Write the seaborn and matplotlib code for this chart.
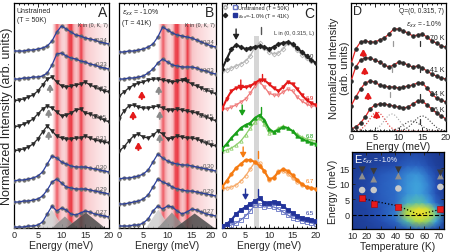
import numpy as np
import matplotlib
matplotlib.use("Agg")
import matplotlib.pyplot as plt
import seaborn as sns
from matplotlib.colors import LinearSegmentedColormap
from matplotlib.lines import Line2D
from matplotlib.legend_handler import HandlerTuple
from matplotlib.ticker import MultipleLocator, FixedLocator

# ---------------- data ----------------
energy = [0, 1, 2, 3, 4, 5, 6, 7, 8, 9, 10, 11, 12, 13, 14, 15, 16, 17, 18, 19, 20]
energy_ticks = [0, 5, 10, 15, 20]

# Panel A (unstrained, T = 50 K), K values, offsets and curve heights
a_labels = ["0.34", "0.33", "0.32", "0.315", "0.31", "0.30", "0.29", "0.27"]
a_offsets = [177, 149, 127, 101, 77, 47, 26, 1]
a_034 = [0, 0, 0, 1, 1, 2, 3, 5, 10, 19, 25, 22, 19, 16, 15, 13, 12, 11, 9, 8, 7]
a_033 = [0, 0, 1, 1, 2, 2, 3, 6, 14, 25, 26, 23, 21, 20, 18, 17, 15, 14, 12, 11, 10]
a_032 = [0, 1, 2, 4, 6, 10, 16, 22, 24, 19, 15, 14, 15, 16, 17, 19, 16, 14, 12, 10, 9]
a_0315 = [0, 1, 3, 5, 8, 13, 18, 21, 19, 15, 11, 12, 14, 17, 18, 14, 13, 11, 9, 7, 5]
a_031 = [0, 1, 2, 4, 7, 12, 19, 25, 20, 15, 13, 12, 12, 13, 13, 15, 13, 11, 10, 9, 8]
a_030 = [0, 1, 1, 2, 3, 5, 9, 17, 25, 23, 19, 17, 15, 14, 14, 14, 13, 12, 11, 10, 9]
a_029 = [0, 0, 1, 1, 2, 3, 6, 12, 20, 23, 19, 15, 14, 13, 13, 13, 12, 11, 10, 9, 8]
a_027 = [0, 0, 0, 1, 1, 2, 5, 13, 21, 16, 19, 17, 13, 12, 14, 16, 15, 13, 12, 11, 10]
a_dark = ["0.32", "0.315", "0.31"]
a_peak_center = [7.8, 10.6, 15.0]
a_peak_height = [19, 12, 16]
a_peak_halfwidth = [2.6, 2.8, 4.2]
a_arrow_E = [7.6, 7.3, 7.3]
a_arrow_I = [144, 119, 97]

# Panel B (strained -1.0 %, T = 41 K)
b_labels = ["0.34", "0.33", "0.32", "0.315", "0.31", "0.30", "0.29", "0.27"]
b_offsets = [176, 149, 132, 109, 77, 49, 24, 2]
b_034 = [0, 0, 1, 1, 2, 3, 5, 8, 15, 25, 22, 19, 17, 16, 15, 14, 12, 10, 8, 6, 5]
b_033 = [0, 0, 1, 1, 2, 3, 6, 10, 16, 20, 17, 14, 13, 12, 12, 12, 11, 9, 8, 6, 5]
b_032 = [0, 4, 8, 11, 13, 14, 16, 17, 17, 16, 15, 14, 15, 16, 15, 12, 10, 8, 6, 4, 2]
b_0315 = [0, 8, 13, 14, 12, 11, 11, 12, 13, 11, 9, 9, 10, 9, 8, 7, 6, 4, 2, 0, -2]
b_031 = [0, 4, 10, 15, 17, 14, 13, 16, 20, 17, 12, 13, 15, 14, 13, 13, 12, 10, 8, 6, 5]
b_030 = [0, 1, 1, 2, 3, 5, 9, 17, 25, 21, 18, 16, 15, 14, 14, 13, 12, 11, 10, 9, 8]
b_029 = [0, 0, 1, 2, 3, 5, 9, 17, 25, 22, 20, 17, 15, 14, 13, 13, 12, 11, 10, 9, 8]
b_027 = [0, 0, 0, 1, 1, 3, 7, 15, 20, 17, 20, 19, 15, 12, 14, 17, 16, 14, 12, 11, 10]
b_dark = ["0.32", "0.315", "0.31"]
b_peak_center = [8.0, 10.8, 15.5]
b_peak_height = [19, 16, 15]
b_peak_halfwidth = [2.6, 3.0, 4.2]
b_red_arrow_E = [4.7, 2.9, 4.0]
b_red_arrow_I = [137, 117, 86]
b_gray_arrow_E = [8.2, 8.4, 8.4]
b_gray_arrow_I = [142, 117, 94]

# red phonon-band shading (A and B)
band_energy = [8.0, 8.5, 9.0, 9.5, 10.0, 10.5, 11.0, 11.5, 12.0, 12.5, 13.0, 13.5,
               14.0, 14.5, 15.0, 15.5, 16.0, 16.5, 17.0, 17.5, 18.0, 18.5, 19.0, 19.5, 20.0]
band_level = [0.0, 0.45, 0.8, 0.55, 0.35, 0.3, 0.45, 0.85, 0.9, 0.55, 0.4, 0.55,
              0.9, 0.6, 0.4, 0.35, 0.3, 0.27, 0.24, 0.21, 0.18, 0.15, 0.12, 0.1, 0.08]

# Panel C : L scans, unstrained (open) vs strained (filled)
c_labels = ["7.0", "6.9", "6.8", "6.7", "6.5"]
c_colors = ["#222222", "#e41a1a", "#1aa01a", "#f57b12", "#23349a"]
c_open_colors = ["#b4b4b4", "#ef7a7a", "#8ccf6a", "#f6a865", "#6674c4"]
c_markers = ["D", "v", "^", "o", "s"]
c_70_strained = [159, 169, 179, 183, 181, 179, 180, 181, 182, 181, 179, 181, 184, 185, 186, 184, 180, 176, 172, 168, 165]
c_70_unstrained = [157, 158, 160, 162, 164, 167, 172, 181, 185, 180, 176, 174, 175, 179, 185, 183, 178, 173, 170, 167, 165]
c_69_strained = [119, 129, 137, 140, 141, 141, 142, 145, 148, 148, 144, 140, 137, 141, 146, 144, 139, 133, 128, 125, 123]
c_69_unstrained = [119, 119, 121, 123, 126, 129, 135, 142, 146, 141, 135, 133, 133, 136, 139, 137, 131, 127, 124, 122, 122]
c_68_strained = [79, 84, 90, 95, 100, 103, 105, 110, 113, 108, 99, 96, 98, 101, 100, 97, 92, 89, 87, 85, 84]
c_68_unstrained = [77, 78, 80, 83, 87, 93, 100, 106, 110, 104, 95, 96, 100, 102, 100, 97, 94, 91, 89, 88, 87]
c_67_strained = [41, 47, 54, 60, 64, 68, 68, 66, 62, 57, 49, 50, 56, 59, 57, 53, 48, 44, 41, 40, 39]
c_67_unstrained = [39, 40, 41, 43, 47, 52, 59, 66, 65, 57, 48, 51, 57, 57, 54, 50, 46, 43, 41, 40, 39]
c_65_strained = [2, 4, 8, 14, 18, 21, 24, 27, 30, 25, 25, 26, 25, 22, 18, 15, 12, 10, 9, 8, 7]
c_65_unstrained = [1, 2, 3, 5, 8, 12, 17, 23, 23, 21, 22, 21, 19, 16, 13, 10, 9, 7, 6, 5, 4]
c_arrow_E = [3.0, 4.0, 4.3, 4.5, 5.0]
c_arrow_I = [188, 137, 112, 70, 28]
c_tick_E = [8.3, 8.6, 8.2, 7.7, 7.7]
c_tick_I = [194, 147, 114, 70, 32]

# Panel D : temperature dependence at Q = (0, 0.315, 7)
d_labels = ["70 K", "41 K", "24 K", "16 K"]
d_70K = [67, 82, 89, 90, 89, 89, 91, 93, 97, 102, 102, 100, 98, 95, 96, 97, 94, 90, 88, 85, 84]
d_41K = [50, 64, 71, 73, 73, 71, 69, 66, 64, 66, 69, 68, 66, 64, 65, 63, 60, 57, 55, 53, 52]
d_24K = [25, 34, 42, 48, 50, 49, 46, 45, 44, 44, 43, 44, 45, 46, 48, 48, 43, 37, 33, 31, 29]
d_16K = [2, 4, 8, 14, 22, 26, 27, 27, 26, 25, 24, 23, 24, 27, 30, 30, 26, 22, 18, 15, 12]
d_comp_center = [5.5, 8.6, 12.8, 15.0]
d_comp_height = [19, 17, 10, 15]
d_comp_sigma = [1.6, 1.6, 1.8, 1.8]
d_arrow_E = [2.6, 2.9, 3.6, 5.4]
d_arrow_I = [82, 64, 39, 20]
d_gray_E = [8.9, 8.6, 8.2]
d_gray_I = [85, 59, 34]
d_dark_E = [14.5, 14.5, 14.5, 14.5]
d_dark_I = [85, 59, 32, 7]

# Panel E : intensity map and mode energies vs temperature
e_T_grid = [10, 20, 30, 40, 48, 54, 58, 63, 68, 74]
e_E_grid = [-4.5, -2, 0, 2, 4, 7, 10, 13, 16, 20.5]
e_map = [
    [0.05, 0.08, 0.12, 0.16, 0.24, 0.30, 0.30, 0.25, 0.14, 0.05],
    [0.06, 0.10, 0.18, 0.30, 0.62, 0.78, 0.80, 0.72, 0.50, 0.10],
    [0.08, 0.12, 0.22, 0.38, 0.85, 0.97, 1.00, 0.92, 0.68, 0.12],
    [0.08, 0.12, 0.22, 0.36, 0.78, 0.92, 0.95, 0.85, 0.55, 0.12],
    [0.08, 0.14, 0.24, 0.32, 0.55, 0.62, 0.62, 0.50, 0.30, 0.08],
    [0.08, 0.14, 0.26, 0.32, 0.45, 0.50, 0.48, 0.38, 0.20, 0.06],
    [0.08, 0.14, 0.26, 0.32, 0.45, 0.50, 0.48, 0.38, 0.20, 0.06],
    [0.06, 0.12, 0.24, 0.30, 0.42, 0.46, 0.42, 0.30, 0.16, 0.05],
    [0.04, 0.08, 0.14, 0.18, 0.27, 0.28, 0.25, 0.17, 0.09, 0.04],
    [0.02, 0.04, 0.06, 0.08, 0.12, 0.12, 0.11, 0.08, 0.05, 0.02],
]
e_T = [17, 25, 42, 71]
e_soft = [5.3, 3.5, 2.7, 1.8]
e_circ = [8.0, 8.0, 8.5, 9.0]
e_up = [12.5, 11.5, 12.5, 12.5]
e_down = [14.5, 14.0, 14.5, 13.5]
e_guide_T = [17, 30, 42, 56, 71]
e_guide_E = [5.3, 4.0, 2.9, 0.1, 1.8]

# ---------------- style ----------------
sns.set_theme(style="ticks")
plt.rcParams['font.family'] = ['Liberation Sans', 'DejaVu Sans']
plt.rcParams['axes.linewidth'] = 0.9
plt.rcParams['axes.edgecolor'] = 'black'

fig = plt.figure(figsize=(4.5, 2.53), dpi=100)
W, H = 450.0, 253.0


def add_ax(x0, y0, x1, y1):
    return fig.add_axes([x0 / W, 1 - y1 / H, (x1 - x0) / W, (y1 - y0) / H])


axA = add_ax(14, 4, 109, 229)
axB = add_ax(119, 4, 216, 229)
axC = add_ax(222, 4, 316, 229)
axD = add_ax(351, 4, 446, 132)
axE = add_ax(352, 153, 444, 230)

E = np.array(energy, dtype=float)
red_cmap = LinearSegmentedColormap.from_list("bands", ["#ffffff", "#f7b7bb", "#e8202c"])


def arrow(ax, x, y_tip, y_tail, color, lw=1.2, ms=5):
    ax.annotate("", xy=(x, y_tip), xytext=(x, y_tail),
                arrowprops=dict(arrowstyle='-|>,head_width=0.35,head_length=0.6', color=color,
                                lw=lw, mutation_scale=ms, shrinkA=0, shrinkB=0), zorder=6)


def energy_axis(ax, ymax, first_ha='center', last_ha='center'):
    ax.set_xlim(0, 20)
    ax.set_ylim(0, ymax)
    ax.xaxis.set_major_locator(FixedLocator(energy_ticks))
    ax.xaxis.set_minor_locator(MultipleLocator(1))
    ax.set_xticks(energy_ticks, [str(t) for t in energy_ticks])
    labs = ax.get_xticklabels()
    labs[0].set_horizontalalignment(first_ha)
    labs[-1].set_horizontalalignment(last_ha)
    ax.tick_params(which='both', direction='in', top=True, bottom=True, left=False,
                   labelleft=False, labelsize=6.6, pad=1.5, width=0.7)
    ax.tick_params(which='major', length=3)
    ax.tick_params(which='minor', length=1.5)
    ax.set_xlabel("Energy (meV)", fontsize=7.5, labelpad=0.5)
    ax.set_yticks([])


def line(ax, y, color, lw, ls='-', z=3):
    sns.lineplot(x=E, y=np.asarray(y, float), ax=ax, color=color, lw=lw, ls=ls, zorder=z)


def pts(ax, y, color, marker, ms, filled=True, z=4):
    sns.lineplot(x=E, y=np.asarray(y, float), ax=ax, linestyle='none', marker=marker,
                 markersize=ms, markerfacecolor=color if filled else 'none',
                 markeredgecolor=color, markeredgewidth=0.6, color=color, zorder=z)


def kpanel(ax, labels, offsets, curves, dark, centers, heights, halfw, letter, title, last_ha):
    ax.imshow(np.array(band_level)[None, :], extent=(band_energy[0] - 0.25, band_energy[-1] + 0.25, 0, 204),
              aspect='auto', cmap=red_cmap, vmin=0, vmax=1, interpolation='bilinear', zorder=0)
    shades = ['#cfcfcf', '#8c8c8c', '#4a4a4a']
    for c, h, w, col in zip(centers, heights, halfw, shades):
        ax.fill_between([c - w, c, c + w], [0, h, 0], color=col, alpha=0.85, lw=0, zorder=1)
    for lab, off, cur in zip(labels, offsets, curves):
        y = np.asarray(cur, float) + off
        if lab in dark:
            line(ax, y, '#2a2a2a', 0.9)
            pts(ax, y, '#2a2a2a', 'v', 2.6)
        else:
            pts(ax, y, '#6e6e6e', 'o', 2.4, z=3)
            line(ax, y, '#2b3f9c', 0.9, z=4)
        ax.text(19.6, off + cur[-1] + 5, lab, fontsize=4.3, color='#555555', ha='right', va='center', zorder=6)
    energy_axis(ax, 225, last_ha=last_ha)
    ax.text(19.6, 212, letter, fontsize=10, ha='right', va='baseline', zorder=6)
    ax.text(19.8, 203, "K in (0, K, 7)", fontsize=3.8, ha='right', va='center', color='#333333', zorder=6)
    ax.text(0.6, 221, title, fontsize=5, ha='left', va='top', linespacing=1.3, zorder=6)


# ---------------- Panel A ----------------
kpanel(axA, a_labels, a_offsets, [a_034, a_033, a_032, a_0315, a_031, a_030, a_029, a_027],
       a_dark, a_peak_center, a_peak_height, a_peak_halfwidth, "A", "Unstrained\n(T = 50K)", 'center')
for x, y in zip(a_arrow_E, a_arrow_I):
    arrow(axA, x, y, y - 8, '#8a8a8a', lw=1.3)
axA.set_ylabel("Normalized Intensity (arb. units)", fontsize=9, labelpad=1)

# ---------------- Panel B ----------------
kpanel(axB, b_labels, b_offsets, [b_034, b_033, b_032, b_0315, b_031, b_030, b_029, b_027],
       b_dark, b_peak_center, b_peak_height, b_peak_halfwidth, "B",
       r"$\varepsilon_{xx}$ = -1.0%" + "\n(T = 41K)", 'right')
for x, y in zip(b_red_arrow_E, b_red_arrow_I):
    arrow(axB, x, y, y - 8, '#e41a1a', lw=1.5)
for x, y in zip(b_gray_arrow_E, b_gray_arrow_I):
    arrow(axB, x, y, y - 8, '#8a8a8a', lw=1.3)
axB.plot([13.3], [149], marker='<', color='#222222', ms=2.5, ls='none', zorder=6)

# ---------------- Panel C ----------------
axC.axvspan(6.8, 7.8, ymin=0, ymax=192 / 225, color='#d6d6d6', lw=0, zorder=0)
strained = [c_70_strained, c_69_strained, c_68_strained, c_67_strained, c_65_strained]
unstrained = [c_70_unstrained, c_69_unstrained, c_68_unstrained, c_67_unstrained, c_65_unstrained]
for i in range(5):
    line(axC, unstrained[i], c_open_colors[i], 0.9, z=2)
    pts(axC, unstrained[i], c_open_colors[i], c_markers[i], 2.4, filled=False, z=2)
    line(axC, strained[i], c_colors[i], 1.5, z=3)
    pts(axC, strained[i], c_colors[i], c_markers[i], 2.4, z=4)
    axC.text(19.6, strained[i][-1] + 8, c_labels[i], fontsize=4.3, color=c_colors[i], ha='right', va='center')
    arrow(axC, c_arrow_E[i], c_arrow_I[i], c_arrow_I[i] + 11, c_colors[i], lw=1.0)
    axC.plot([c_tick_E[i], c_tick_E[i]], [c_tick_I[i], c_tick_I[i] + 7],
             color=c_colors[i] if i else '#555555', lw=1.0, zorder=6)
energy_axis(axC, 225, first_ha='left')
axC.text(19.6, 222, "C", fontsize=10, ha='right', va='top')
axC.text(19.6, 196, "L in (0, 0.315, L)", fontsize=4, ha='right', va='center', color='#333333')
h_open = (Line2D([], [], marker='D', mfc='none', mec='#aaaaaa', ls='none', ms=2.2),
          Line2D([], [], marker='s', mfc='none', mec='#6674c4', ls='none', ms=2.2))
h_fill = (Line2D([], [], marker='D', mfc='#222222', mec='#222222', ls='none', ms=2.2),
          Line2D([], [], marker='s', mfc='#23349a', mec='#23349a', ls='none', ms=2.2))
axC.legend([h_open, h_fill], ["Unstrained (T = 50K)", r"$\varepsilon_{xx}$=-1.0% (T = 41K)"],
           handler_map={tuple: HandlerTuple(ndivide=None, pad=1.2)}, loc='upper left',
           fontsize=4, frameon=False, handlelength=2.2, handletextpad=0.4, borderaxespad=0.1,
           labelspacing=0.2, borderpad=0.2)

# ---------------- Panel D ----------------
Ef = np.linspace(0, 20, 201)
comp_colors = ['#e02a2a', '#a6a6a6', '#3c3c3c', '#3c3c3c']
for c, h, s, col in zip(d_comp_center, d_comp_height, d_comp_sigma, comp_colors):
    sns.lineplot(x=Ef, y=h * np.exp(-0.5 * ((Ef - c) / s) ** 2), ax=axD, color=col, lw=0.8, ls=':', zorder=2)
for lab, cur in zip(d_labels, [d_70K, d_41K, d_24K, d_16K]):
    line(axD, cur, '#e42222', 0.9, z=3)
    pts(axD, cur, '#2c2c2c', 'o', 2.6, z=4)
    axD.text(19.7, cur[-1] + 9, lab, fontsize=5, ha='right', va='center', color='#222222')
for x, y in zip(d_arrow_E, d_arrow_I):
    arrow(axD, x, y, y - 7, '#e41a1a', lw=1.5)
for x, y in zip(d_gray_E, d_gray_I):
    axD.plot([x, x], [y, y + 5], color='#9a9a9a', lw=0.9, zorder=6)
for x, y in zip(d_dark_E, d_dark_I):
    axD.plot([x, x], [y, y + 5], color='#333333', lw=0.9, zorder=6)
energy_axis(axD, 128)
axD.tick_params(labelsize=6.6, pad=1)
axD.set_xlabel("Energy (meV)", fontsize=7.5, labelpad=-0.5)
axD.text(0.5, 126, "D", fontsize=9, ha='left', va='top')
axD.text(19.5, 124, "Q=(0, 0.315, 7)", fontsize=4.8, ha='right', va='top')
axD.text(11.5, 112, r"$\varepsilon_{xx}$ = -1.0%", fontsize=4.8, ha='left', va='top')
axD.set_ylabel("Normalized Intensity\n(arb. units)", fontsize=8, labelpad=1, linespacing=1.1)

# ---------------- Panel E ----------------
heat_cmap = LinearSegmentedColormap.from_list(
    "heat", [(0.0, "#1a3488"), (0.2, "#2550b4"), (0.35, "#3072cc"), (0.5, "#3fa2dc"),
             (0.65, "#5cc3a0"), (0.8, "#a9d84a"), (1.0, "#f6e22a")])
TT, EE = np.meshgrid(e_T_grid, e_E_grid)
axE.pcolormesh(TT, EE, np.array(e_map), shading='gouraud', cmap=heat_cmap, vmin=0, vmax=1, zorder=0)
axE.axhline(0, color='black', lw=0.8, ls='--', zorder=2)
sns.lineplot(x=e_guide_T, y=e_guide_E, ax=axE, color='black', lw=0.9, ls=':', zorder=3)
sns.scatterplot(x=e_T, y=e_circ, ax=axE, marker='o', color='#c9c9c9', s=22, edgecolor='none', zorder=4)
sns.scatterplot(x=e_T, y=e_up, ax=axE, marker='^', color='#8f8f8f', s=24, edgecolor='none', zorder=4)
sns.scatterplot(x=e_T, y=e_down, ax=axE, marker='v', color='#3a3a3a', s=24, edgecolor='none', zorder=4)
sns.scatterplot(x=e_T, y=e_soft, ax=axE, marker='s', color='#e81a1a', s=20, edgecolor='#aa0000', linewidth=0.4, zorder=5)
axE.set_xlim(10, 73.5)
axE.set_ylim(-4.5, 20.2)
axE.set_xticks([10, 20, 30, 40, 50, 60, 70])
axE.set_yticks([0, 5, 10, 15])
axE.tick_params(which='both', direction='in', top=True, right=True, labelsize=6.6, pad=1.5, length=2.5, width=0.7)
axE.set_xlabel("Temperature (K)", fontsize=7.5, labelpad=0.5)
axE.set_ylabel("Energy (meV)", fontsize=7.5, labelpad=1)
axE.text(11.5, 19.5, "E", fontsize=8, color='white', ha='left', va='top')
axE.text(17, 19.3, r"$\varepsilon_{xx}$ = -1.0%", fontsize=4.8, color='white', ha='left', va='top')

fig.savefig("out.png", dpi=100)
